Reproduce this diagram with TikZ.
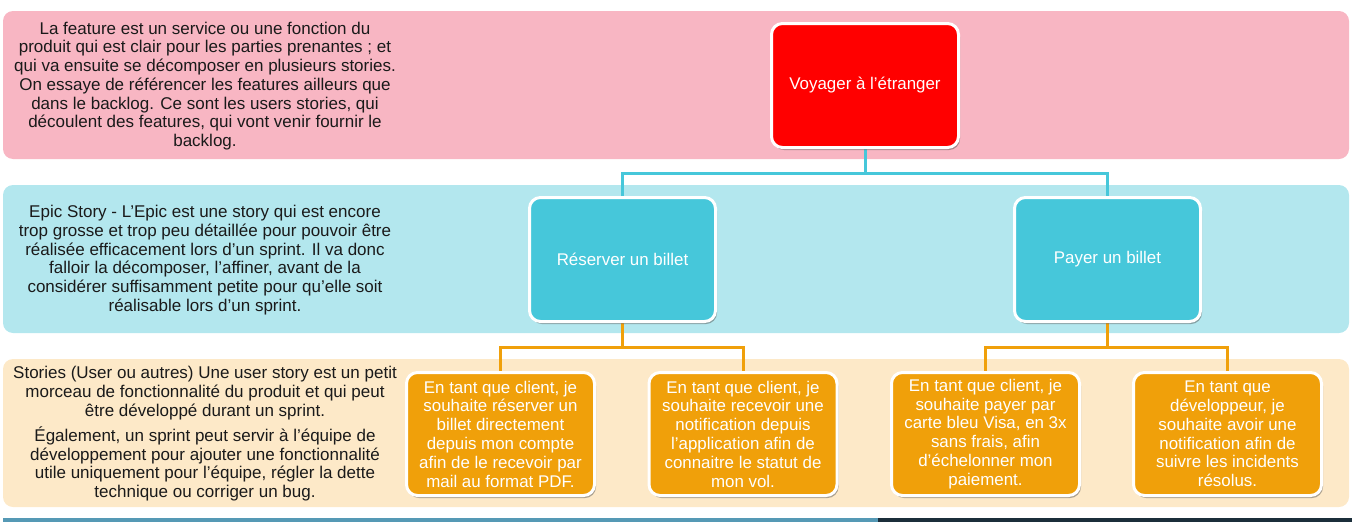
\documentclass[tikz,border=0pt]{standalone}
\usepackage{fontspec}
\setmainfont{Liberation Sans}
\usetikzlibrary{shadows}
\pgfdeclarelayer{bg}
\pgfdeclarelayer{conn}
\pgfsetlayers{bg,conn,main}
\definecolor{pinkband}{HTML}{F8B6C3}
\definecolor{cyanband}{HTML}{B3E7EE}
\definecolor{beigeband}{HTML}{FDE9C8}
\definecolor{redbox}{HTML}{FF0000}
\definecolor{cyanbox}{HTML}{46C7DA}
\definecolor{orangebox}{HTML}{F0A00A}
\definecolor{stripblue}{HTML}{5599B5}
\definecolor{stripdark}{HTML}{1B2E3A}
\definecolor{txt}{HTML}{1A1A1A}
\tikzset{
  band/.style={rounded corners=10pt},
  boxbase/.style={draw=white, line width=3pt, rounded corners=11pt, text=white,
    align=center, inner sep=0pt,
    font=\fontsize{16.9}{18.8}\selectfont,
    drop shadow={shadow xshift=1.5pt, shadow yshift=-2.5pt, opacity=0.45, fill=black!70}},
  featbox/.style={boxbase, fill=redbox, minimum width=187pt, minimum height=124pt},
  epicbox/.style={boxbase, fill=cyanbox, minimum width=186pt, minimum height=124pt},
  storybox/.style={boxbase, fill=orangebox, minimum width=188pt, minimum height=123pt},
  desc/.style={text=txt, align=center, inner sep=0pt, font=\fontsize{17}{18.7}\selectfont},
  cyanline/.style={draw=cyanbox, line width=3pt},
  orangeline/.style={draw=orangebox, line width=3pt},
}
\begin{document}
\begin{tikzpicture}[x=1pt, y=-1pt]
\useasboundingbox (0,0) rectangle (1352,522);
\begin{pgfonlayer}{bg}
\fill[pinkband, band] (3,11) rectangle (1349,159);
\fill[cyanband, band] (3,185) rectangle (1349,333);
\fill[beigeband, band] (3,359) rectangle (1349,507);
\fill[stripblue] (3,518) rectangle (878,522);
\fill[stripdark] (878,518) rectangle (1352,522);
\end{pgfonlayer}
% descriptions
\node[desc] (d1) at (205,86) {La feature est un service ou une fonction du\\
produit qui est clair pour les parties prenantes ; et\\
qui va ensuite se décomposer en plusieurs stories.\\
On essaye de référencer les features ailleurs que\\
dans le backlog. Ce sont les users stories, qui\\
découlent des features, qui vont venir fournir le\\
backlog.};
\node[desc] (d2) at (205,260) {Epic Story - L’Epic est une story qui est encore\\
trop grosse et trop peu détaillée pour pouvoir être\\
réalisée efficacement lors d’un sprint. Il va donc\\
falloir la décomposer, l’affiner, avant de la\\
considérer suffisamment petite pour qu’elle soit\\
réalisable lors d’un sprint.};
\node[desc] (d3) at (205,393) {Stories (User ou autres) Une user story est un petit\\
morceau de fonctionnalité du produit et qui peut\\
être développé durant un sprint.};
\node[desc] (d4) at (205,464) {Également, un sprint peut servir à l’équipe de\\
développement pour ajouter une fonctionnalité\\
utile uniquement pour l’équipe, régler la dette\\
technique ou corriger un bug.};
% junctions
\coordinate (j1) at (865,173);
\coordinate (j2) at (622.5,347);
\coordinate (j3) at (1107.5,347);
% boxes
\node[featbox] (voy) at (865,85.5) {Voyager à l’étranger};
\node[epicbox] (res) at (622.5,259.5) {Réserver un billet};
\node[epicbox] (pay) at (1107.5,259.5) {Payer un billet};
\node[storybox] (s1) at (500.5,434) {En tant que client, je\\souhaite réserver un\\billet directement\\depuis mon compte\\afin de le recevoir par\\mail au format PDF.};
\node[storybox] (s2) at (743,434) {En tant que client, je\\souhaite recevoir une\\notification depuis\\l’application afin de\\connaitre le statut de\\mon vol.};
\node[storybox] (s3) at (985.5,434) {En tant que client, je\\souhaite payer par\\carte bleu Visa, en 3x\\sans frais, afin\\d’échelonner mon\\paiement.};
\node[storybox] (s4) at (1227.5,434) {En tant que\\développeur, je\\souhaite avoir une\\notification afin de\\suivre les incidents\\résolus.};
% connectors
\begin{pgfonlayer}{conn}
\draw[cyanline] (voy.south) -- (j1) -| (res.north);
\draw[cyanline] (j1) -| (pay.north);
\draw[orangeline] (res.south) -- (j2) -| (s1.north);
\draw[orangeline] (j2) -| (s2.north);
\draw[orangeline] (pay.south) -- (j3) -| (s3.north);
\draw[orangeline] (j3) -| (s4.north);
\end{pgfonlayer}
\end{tikzpicture}
\end{document}
